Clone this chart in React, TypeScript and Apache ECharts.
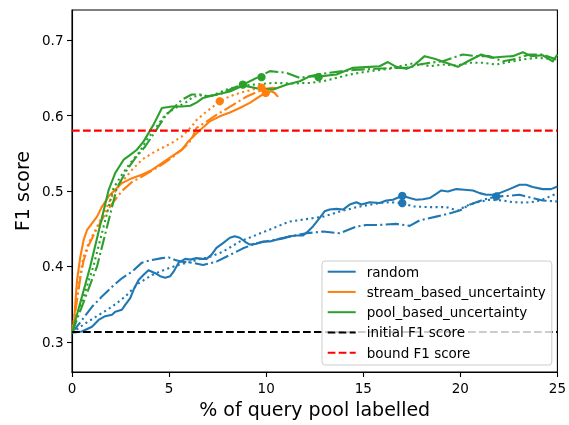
import React, { useEffect, useRef } from "react";
import * as echarts from "echarts";

const BLUE = "#1f77b4";
const ORANGE = "#ff7f0e";
const GREEN = "#2ca02c";

const legendNames = ["random", "stream_based_uncertainty", "pool_based_uncertainty", "initial F1 score", "bound F1 score"];
const yTickValues = [0.3, 0.4, 0.5, 0.6, 0.7];
const initialF1 = 0.313;
const boundF1 = 0.58;

const randomSolid = [[0,0.312],[0.51,0.3137],[1.03,0.32],[1.37,0.329],[1.71,0.334],[2.06,0.336],[2.23,0.34],[2.57,0.3425],[2.74,0.349],[3.0,0.358],[3.17,0.369],[3.43,0.382],[3.69,0.389],[3.94,0.395],[4.29,0.391],[4.54,0.387],[4.8,0.385],[5.06,0.387],[5.23,0.393],[5.49,0.405],[5.83,0.41],[6.1,0.409],[6.41,0.411],[6.69,0.41],[6.93,0.41],[7.19,0.4156],[7.44,0.4245],[7.78,0.431],[8.13,0.438],[8.38,0.44],[8.64,0.438],[8.9,0.433],[9.16,0.429],[9.5,0.43],[9.84,0.433],[10.19,0.433],[10.53,0.4355],[10.87,0.437],[11.21,0.44],[11.56,0.441],[11.9,0.441],[12.16,0.4466],[12.41,0.453],[12.76,0.4644],[13.01,0.473],[13.27,0.4754],[13.62,0.4763],[13.96,0.4754],[14.3,0.482],[14.65,0.485],[14.9,0.482],[15.33,0.485],[15.84,0.484],[16.19,0.4874],[16.53,0.4883],[17.01,0.4936],[17.39,0.4906],[17.73,0.4883],[18.07,0.489],[18.42,0.4906],[18.76,0.4963],[19.02,0.5007],[19.36,0.4993],[19.79,0.5025],[20.22,0.5016],[20.65,0.5007],[21.0,0.4972],[21.33,0.495],[21.67,0.495],[22.02,0.4972],[22.53,0.5025],[23.05,0.5082],[23.39,0.5082],[23.73,0.5052],[24.24,0.5025],[24.67,0.5025],[25.0,0.506]];
const randomDotted = [[0,0.312],[0.69,0.3245],[1.37,0.3355],[2.06,0.3465],[2.74,0.36],[3.43,0.3776],[4.12,0.3886],[4.8,0.396],[5.49,0.402],[6.17,0.4063],[6.69,0.411],[6.93,0.411],[7.78,0.4196],[8.64,0.433],[9.5,0.4418],[10.36,0.4507],[11.21,0.4595],[12.07,0.4627],[12.93,0.466],[13.79,0.4727],[14.65,0.4786],[15.33,0.4817],[15.84,0.484],[16.36,0.4852],[17.01,0.484],[17.56,0.4795],[18.42,0.4786],[19.27,0.4786],[19.87,0.474],[20.3,0.4803],[20.82,0.4847],[21.5,0.4883],[22.19,0.4874],[22.7,0.4852],[23.39,0.4847],[23.9,0.486],[24.42,0.4906],[25.0,0.497]];
const randomDashDot = [[0,0.312],[0.51,0.3288],[1.03,0.3465],[1.54,0.36],[2.06,0.373],[2.57,0.3843],[3.09,0.393],[3.6,0.405],[4.12,0.4086],[4.63,0.411],[4.97,0.412],[5.31,0.4086],[5.66,0.4063],[6.17,0.405],[6.75,0.402],[7.44,0.4063],[8.13,0.4152],[8.81,0.424],[9.5,0.4308],[10.36,0.435],[11.21,0.4395],[12.07,0.444],[12.93,0.4462],[13.79,0.444],[14.65,0.4528],[15.16,0.455],[15.84,0.455],[16.7,0.4564],[17.39,0.4538],[17.9,0.461],[18.76,0.466],[19.61,0.4714],[19.96,0.474],[20.47,0.4817],[21.16,0.4883],[21.85,0.4927],[22.53,0.4936],[23.05,0.495],[23.73,0.4906],[24.24,0.4874],[25.0,0.486]];

const streamSolid = [[0,0.312],[0.09,0.3156],[0.17,0.351],[0.26,0.382],[0.43,0.413],[0.6,0.435],[0.77,0.448],[1.03,0.457],[1.29,0.466],[1.54,0.479],[1.89,0.493],[2.23,0.502],[2.57,0.5105],[3.09,0.517],[3.6,0.5215],[4.12,0.528],[4.63,0.537],[5.14,0.546],[5.66,0.5547],[6.0,0.566],[6.34,0.5747],[6.69,0.583],[7.1,0.5924],[7.61,0.599],[8.13,0.604],[8.64,0.61],[9.16,0.6168],[9.67,0.6256],[9.98,0.63],[10.27,0.6322],[10.44,0.63],[10.61,0.6248]];
const streamDashDot = [[0,0.312],[0.26,0.355],[0.43,0.385],[0.6,0.408],[0.86,0.428],[1.2,0.446],[1.63,0.466],[2.06,0.483],[2.57,0.5],[3.09,0.512],[3.6,0.519],[4.12,0.527],[4.63,0.535],[5.14,0.544],[5.66,0.555],[6.0,0.563],[6.2,0.571],[6.41,0.5836],[6.93,0.592],[7.44,0.601],[7.96,0.609],[8.47,0.617],[8.98,0.625],[9.5,0.631],[9.93,0.6354],[10.36,0.6367],[10.61,0.636]];
const streamDotted = [[0,0.312],[0.26,0.36],[0.43,0.391],[0.6,0.413],[0.86,0.431],[1.2,0.448],[1.63,0.47],[2.06,0.493],[2.57,0.512],[3.09,0.528],[3.6,0.5415],[4.12,0.55],[4.63,0.557],[5.14,0.5637],[5.66,0.5724],[6.17,0.5857],[6.41,0.594],[6.84,0.6035],[7.27,0.612],[7.61,0.619],[8.13,0.6256],[8.64,0.63],[9.16,0.6335],[9.76,0.638]];

const poolSolid = [[0,0.312],[0.94,0.4],[1.89,0.5016],[2.23,0.524],[2.66,0.5415],[3.0,0.548],[3.34,0.5547],[3.69,0.5658],[4.2,0.588],[4.63,0.61],[5.14,0.612],[5.66,0.612],[6.09,0.613],[6.43,0.6176],[6.75,0.6234],[7.44,0.628],[8.13,0.632],[8.81,0.6398],[9.67,0.6354],[10.36,0.6345],[11.04,0.641],[11.73,0.6455],[12.24,0.652],[12.76,0.652],[13.62,0.6544],[14.47,0.6633],[15.33,0.6646],[15.84,0.6655],[16.27,0.671],[16.7,0.6646],[17.22,0.662],[17.56,0.6655],[18.16,0.6788],[18.67,0.6753],[19.27,0.67],[19.87,0.6646],[20.39,0.672],[21.08,0.681],[21.59,0.6766],[22.19,0.678],[22.7,0.6788],[23.22,0.684],[23.65,0.6788],[24.24,0.68],[24.76,0.672],[25.0,0.681]];
const poolDotted = [[0,0.312],[1.1,0.4],[2.14,0.504],[2.57,0.5216],[3.0,0.537],[3.43,0.55],[3.86,0.568],[4.37,0.5857],[4.8,0.601],[5.31,0.61],[5.83,0.6168],[6.24,0.625],[6.69,0.627],[7.1,0.6256],[7.96,0.6345],[8.64,0.639],[9.33,0.641],[10.36,0.6434],[11.38,0.6425],[12.24,0.6434],[12.93,0.6455],[13.62,0.65],[14.3,0.6544],[14.98,0.6575],[15.67,0.66],[16.36,0.662],[17.04,0.6664],[17.73,0.67],[18.42,0.6655],[19.1,0.6677],[19.79,0.6664],[20.47,0.67],[21.16,0.67],[21.85,0.6677],[22.53,0.671],[23.22,0.6744],[23.9,0.6766],[24.59,0.6753],[25.0,0.6766]];
const poolDashDot = [[0,0.312],[1.29,0.4],[2.31,0.504],[2.83,0.528],[3.26,0.5437],[3.77,0.559],[4.29,0.579],[4.8,0.599],[5.14,0.608],[5.66,0.621],[6.17,0.628],[6.6,0.628],[6.93,0.6256],[7.61,0.628],[8.3,0.6367],[8.99,0.6434],[9.67,0.652],[10.19,0.659],[11.04,0.6567],[11.73,0.65],[12.24,0.652],[12.76,0.655],[13.27,0.6567],[13.96,0.659],[14.81,0.661],[15.67,0.662],[16.53,0.6633],[17.22,0.6633],[17.9,0.6677],[18.42,0.67],[19.1,0.672],[19.61,0.6766],[20.13,0.681],[20.82,0.6788],[21.5,0.6788],[22.19,0.672],[22.88,0.6753],[23.56,0.681],[24.24,0.681],[24.93,0.6744]];

const randomMarkers = [[17.01,0.4936],[17.01,0.484],[21.85,0.4927]];
const streamMarkers = [[7.61,0.619],[9.76,0.637],[9.98,0.63]];
const poolMarkers = [[8.8,0.641],[9.76,0.651],[12.7,0.651]];

const FONT = "DejaVu Sans";
const LW = 2.1;
const DOTTED = [2.1, 3.4];
const DASHDOT = [13.3, 3.3, 2.1, 3.3];
const DASHED = [7.7, 3.3];

function lineSeries(name: string, data: number[][], color: string, type: any) {
  return {
    type: "line",
    name,
    data,
    symbol: "none",
    showSymbol: false,
    color,
    lineStyle: { color, width: LW, type, cap: "butt", join: "round" },
    emphasis: { disabled: true },
    silent: true,
    z: 2,
  };
}

function markerSeries(name: string, data: number[][], color: string) {
  return {
    type: "scatter",
    name,
    data,
    symbol: "circle",
    symbolSize: 8.3,
    itemStyle: { color, opacity: 1 },
    emphasis: { disabled: true },
    silent: true,
    z: 3,
  };
}

export default function App() {
  const ref = useRef<HTMLDivElement>(null);
  useEffect(() => {
    if (!ref.current) return;
    const chart = echarts.init(ref.current, undefined, { renderer: "svg" });
    chart.setOption({
      animation: false,
      textStyle: { fontFamily: FONT },
      grid: {
        left: 72, top: 10, width: 486, height: 362,
        show: true, borderColor: "#000", borderWidth: 1.1, backgroundColor: "transparent",
      },
      xAxis: {
        type: "value", min: 0, max: 25, interval: 5,
        name: "% of query pool labelled", nameLocation: "middle", nameGap: 27,
        nameTextStyle: { fontSize: 19, color: "#000", fontFamily: FONT },
        axisLine: { show: true, lineStyle: { color: "#000", width: 1.1 } },
        axisTick: { show: true, inside: false, length: 5, lineStyle: { color: "#000", width: 1.1 } },
        axisLabel: { fontSize: 13.5, color: "#000", margin: 9, fontFamily: FONT },
        splitLine: { show: false },
      },
      yAxis: {
        type: "value", min: 0.26, max: 0.74,
        name: "F1 score", nameLocation: "middle", nameGap: 35,
        nameTextStyle: { fontSize: 19, color: "#000", fontFamily: FONT },
        axisLine: { show: true, lineStyle: { color: "#000", width: 1.1 } },
        axisTick: { show: true, inside: false, length: 5, customValues: yTickValues, lineStyle: { color: "#000", width: 1.1 } },
        axisLabel: { fontSize: 13.5, color: "#000", margin: 8.5, customValues: yTickValues, formatter: (v: number) => v.toFixed(1), fontFamily: FONT },
        splitLine: { show: false },
      },
      legend: {
        data: legendNames,
        orient: "vertical",
        left: 322, top: 261,
        itemWidth: 28, itemHeight: 14, itemGap: 6.25,
        padding: [3.7, 6, 5.3, 4.7],
        backgroundColor: "rgba(255,255,255,0.8)",
        borderColor: "#cccccc", borderWidth: 1, borderRadius: 3,
        selectedMode: false,
        itemStyle: { opacity: 0, borderWidth: 0 },
        textStyle: { fontSize: 13.5, color: "#000", fontFamily: FONT, padding: [0, 0, 0, 6] },
      },
      series: [
        lineSeries("random", randomSolid, BLUE, "solid"),
        lineSeries("random", randomDotted, BLUE, DOTTED),
        lineSeries("random", randomDashDot, BLUE, DASHDOT),
        lineSeries("stream_based_uncertainty", streamSolid, ORANGE, "solid"),
        lineSeries("stream_based_uncertainty", streamDashDot, ORANGE, DASHDOT),
        lineSeries("stream_based_uncertainty", streamDotted, ORANGE, DOTTED),
        lineSeries("pool_based_uncertainty", poolSolid, GREEN, "solid"),
        lineSeries("pool_based_uncertainty", poolDotted, GREEN, DOTTED),
        lineSeries("pool_based_uncertainty", poolDashDot, GREEN, DASHDOT),
        markerSeries("random end", randomMarkers, BLUE),
        markerSeries("stream end", streamMarkers, ORANGE),
        markerSeries("pool end", poolMarkers, GREEN),
        lineSeries("initial F1 score", [[0, initialF1], [25, initialF1]], "#000000", DASHED),
        lineSeries("bound F1 score", [[0, boundF1], [25, boundF1]], "#ff0000", DASHED),
      ],
    });
    return () => chart.dispose();
  }, []);
  return <div ref={ref} style={{ position: "fixed", left: 0, top: 0, width: 569, height: 425 }} />;
}
